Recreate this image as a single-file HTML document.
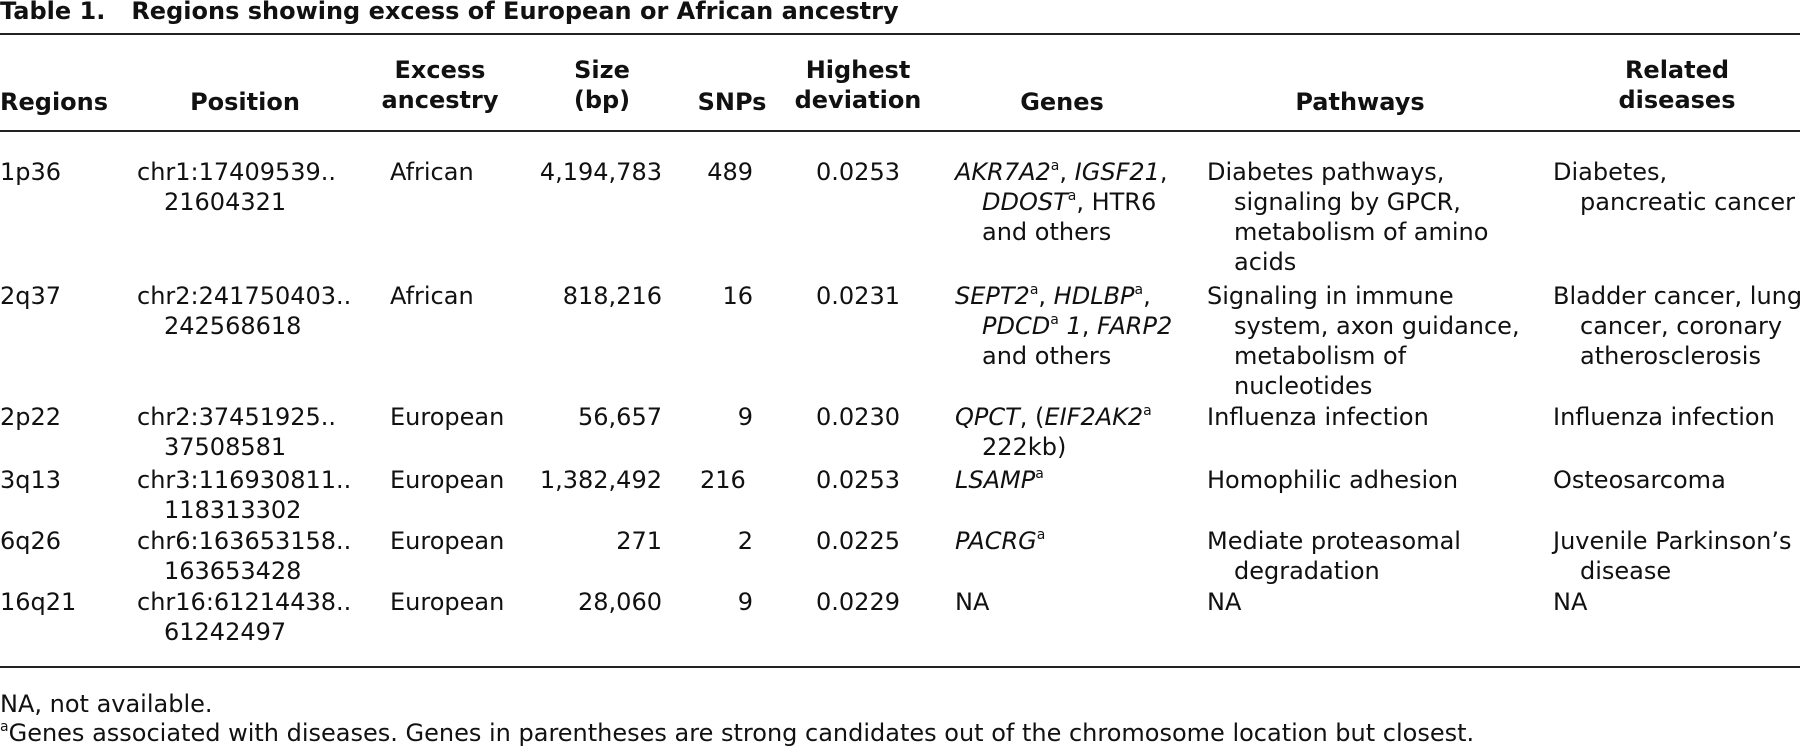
<!DOCTYPE html>
<html><head><meta charset="utf-8"><style>
body{margin:0;width:1800px;height:746px;background:#fff;overflow:hidden;position:relative;font-family:"DejaVu Sans","Liberation Sans",sans-serif;color:#111;font-size:24px;}
.c{position:absolute;line-height:30px;white-space:nowrap;}
.h{font-weight:bold;text-align:center;}
.hang{padding-left:27px;text-indent:-27px;}
.r{text-align:right;}
.m{text-align:center;width:160px;}
.rule{position:absolute;left:0;width:1800px;height:2px;background:#222;}
sup{font-size:14px;font-style:normal;vertical-align:10px;line-height:0;}
i{font-style:italic;}
</style></head><body>
<div class="c" style="left:0;top:-4px;font-weight:bold;font-size:24px;">Table 1.<span style="display:inline-block;width:26px"></span>Regions showing excess of European or African ancestry</div>
<div class="rule" style="top:33px"></div>
<div class="rule" style="top:130px"></div>
<div class="rule" style="top:666px"></div>

<div class="c h" style="left:0;top:87px;text-align:left">Regions</div>
<div class="c h" style="left:165px;width:160px;top:87px">Position</div>
<div class="c h" style="left:360px;width:160px;top:55px">Excess<br>ancestry</div>
<div class="c h" style="left:542px;width:120px;top:55px">Size<br>(bp)</div>
<div class="c h" style="left:682px;width:100px;top:87px">SNPs</div>
<div class="c h" style="left:778px;width:160px;top:55px">Highest<br>deviation</div>
<div class="c h" style="left:982px;width:160px;top:87px">Genes</div>
<div class="c h" style="left:1280px;width:160px;top:87px">Pathways</div>
<div class="c h" style="left:1597px;width:160px;top:55px">Related<br>diseases</div>

<!-- row 1 -->
<div class="c" style="left:0;top:157px">1p36</div>
<div class="c hang" style="left:137px;top:157px">chr1:17409539..<br>21604321</div>
<div class="c" style="left:390px;top:157px">African</div>
<div class="c r" style="right:1138px;top:157px">4,194,783</div>
<div class="c r" style="right:1047px;top:157px">489</div>
<div class="c m" style="left:778px;top:157px">0.0253</div>
<div class="c hang" style="left:955px;top:157px"><i>AKR7A2</i><sup>a</sup>, <i>IGSF21</i>,<br><i>DDOST</i><sup>a</sup>, HTR6<br>and others</div>
<div class="c hang" style="left:1207px;top:157px">Diabetes pathways,<br>signaling by GPCR,<br>metabolism of amino<br>acids</div>
<div class="c hang" style="left:1553px;top:157px">Diabetes,<br>pancreatic cancer</div>

<!-- row 2 -->
<div class="c" style="left:0;top:281px">2q37</div>
<div class="c hang" style="left:137px;top:281px">chr2:241750403..<br>242568618</div>
<div class="c" style="left:390px;top:281px">African</div>
<div class="c r" style="right:1138px;top:281px">818,216</div>
<div class="c r" style="right:1047px;top:281px">16</div>
<div class="c m" style="left:778px;top:281px">0.0231</div>
<div class="c hang" style="left:955px;top:281px"><i>SEPT2</i><sup>a</sup>, <i>HDLBP</i><sup>a</sup>,<br><i>PDCD</i><sup>a</sup> <i>1</i>, <i>FARP2</i><br>and others</div>
<div class="c hang" style="left:1207px;top:281px">Signaling in immune<br>system, axon guidance,<br>metabolism of<br>nucleotides</div>
<div class="c hang" style="left:1553px;top:281px">Bladder cancer, lung<br>cancer, coronary<br>atherosclerosis</div>

<!-- row 3 -->
<div class="c" style="left:0;top:402px">2p22</div>
<div class="c hang" style="left:137px;top:402px">chr2:37451925..<br>37508581</div>
<div class="c" style="left:390px;top:402px">European</div>
<div class="c r" style="right:1138px;top:402px">56,657</div>
<div class="c r" style="right:1047px;top:402px">9</div>
<div class="c m" style="left:778px;top:402px">0.0230</div>
<div class="c hang" style="left:955px;top:402px"><i>QPCT</i>, (<i>EIF2AK2</i><sup>a</sup><br>222kb)</div>
<div class="c" style="left:1207px;top:402px">Influenza infection</div>
<div class="c" style="left:1553px;top:402px">Influenza infection</div>

<!-- row 4 -->
<div class="c" style="left:0;top:465px">3q13</div>
<div class="c hang" style="left:137px;top:465px">chr3:116930811..<br>118313302</div>
<div class="c" style="left:390px;top:465px">European</div>
<div class="c r" style="right:1138px;top:465px">1,382,492</div>
<div class="c" style="left:700px;top:465px">216</div>
<div class="c m" style="left:778px;top:465px">0.0253</div>
<div class="c" style="left:955px;top:465px"><i>LSAMP</i><sup>a</sup></div>
<div class="c" style="left:1207px;top:465px">Homophilic adhesion</div>
<div class="c" style="left:1553px;top:465px">Osteosarcoma</div>

<!-- row 5 -->
<div class="c" style="left:0;top:526px">6q26</div>
<div class="c hang" style="left:137px;top:526px">chr6:163653158..<br>163653428</div>
<div class="c" style="left:390px;top:526px">European</div>
<div class="c r" style="right:1138px;top:526px">271</div>
<div class="c r" style="right:1047px;top:526px">2</div>
<div class="c m" style="left:778px;top:526px">0.0225</div>
<div class="c" style="left:955px;top:526px"><i>PACRG</i><sup>a</sup></div>
<div class="c hang" style="left:1207px;top:526px">Mediate proteasomal<br>degradation</div>
<div class="c hang" style="left:1553px;top:526px">Juvenile Parkinson’s<br>disease</div>

<!-- row 6 -->
<div class="c" style="left:0;top:587px">16q21</div>
<div class="c hang" style="left:137px;top:587px">chr16:61214438..<br>61242497</div>
<div class="c" style="left:390px;top:587px">European</div>
<div class="c r" style="right:1138px;top:587px">28,060</div>
<div class="c r" style="right:1047px;top:587px">9</div>
<div class="c m" style="left:778px;top:587px">0.0229</div>
<div class="c" style="left:955px;top:587px">NA</div>
<div class="c" style="left:1207px;top:587px">NA</div>
<div class="c" style="left:1553px;top:587px">NA</div>

<div class="c" style="left:0;top:689px">NA, not available.</div>
<div class="c" style="left:0;top:718px"><sup>a</sup>Genes associated with diseases. Genes in parentheses are strong candidates out of the chromosome location but closest.</div>
</body></html>
